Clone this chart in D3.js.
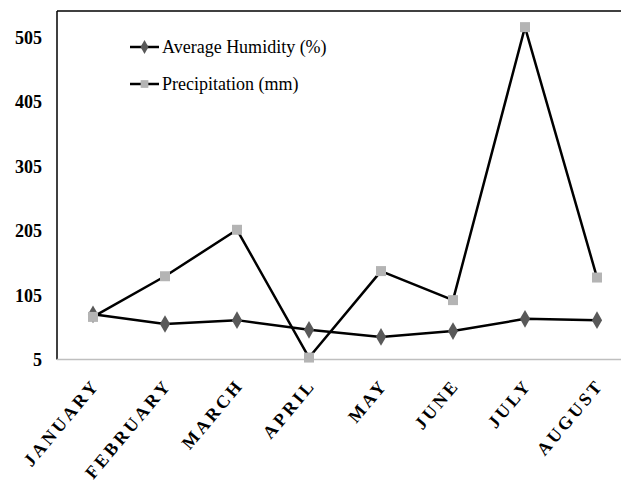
<!DOCTYPE html>
<html><head><meta charset="utf-8">
<script src="https://cdn.jsdelivr.net/npm/d3@7"></script>
<style>html,body{margin:0;padding:0;background:#fff;}svg{display:block;}</style>
</head><body>
<svg id="c" width="621" height="484"></svg>
<script>
const months = ["JANUARY","FEBRUARY","MARCH","APRIL","MAY","JUNE","JULY","AUGUST"];
const humidity = [75, 60, 66, 51, 40, 49, 68, 66];
const precipitation = [71, 134, 206, 8, 142, 97, 520, 132];
const yTicks = [5, 105, 205, 305, 405, 505];
const seriesNames = ["Average Humidity (%)", "Precipitation (mm)"];

const svg = d3.select("#c");
const L = 57, T = 11, B = 359.5, R = 633;
const x = d3.scalePoint().domain(months).range([L, R]).padding(0.5);
const y = d3.scaleLinear().domain([5, 545]).range([B, T]);
const font = "'Liberation Serif','Times New Roman',serif";

// frame
svg.append("line").attr("x1", L).attr("x2", 621).attr("y1", T).attr("y2", T).attr("stroke", "#000").attr("stroke-width", 1.5);
svg.append("line").attr("x1", L).attr("x2", L).attr("y1", T).attr("y2", B).attr("stroke", "#000").attr("stroke-width", 1.5);

// x axis (grey baseline)
const xAxis = svg.append("g").attr("transform", `translate(0,${B})`)
  .call(d3.axisBottom(x).tickSize(0).tickPadding(0));
xAxis.select(".domain").attr("d", `M${L},0H621`).attr("stroke", "#bfbfbf").attr("stroke-width", 1.5);
xAxis.selectAll(".tick text")
  .attr("font-family", font).attr("font-size", 18).attr("font-weight", "bold")
  .attr("fill", "#000").attr("letter-spacing", "3px")
  .attr("text-anchor", "end").attr("dy", 0)
  .attr("transform", "translate(7,26) rotate(-50)");

// y axis labels
const yAxis = svg.append("g").attr("transform", `translate(${L},0)`)
  .call(d3.axisLeft(y).tickValues(yTicks).tickSize(0).tickPadding(15).tickFormat(d3.format("d")));
yAxis.select(".domain").remove();
yAxis.selectAll(".tick text")
  .attr("font-family", font).attr("font-size", 18).attr("font-weight", "bold").attr("fill", "#000")
  .attr("dy", "0.36em");

const line = d3.line().x((d, i) => x(months[i])).y(d => y(d));

function drawSeries(vals, marker, color, size) {
  svg.append("path").datum(vals).attr("d", line).attr("fill", "none")
    .attr("stroke", "#000").attr("stroke-width", 2.5).attr("stroke-linejoin", "round");
  svg.append("g").selectAll("path").data(vals).join("path")
    .attr("transform", (d, i) => `translate(${x(months[i])},${y(d)})`)
    .attr("d", d3.symbol().type(marker).size(size))
    .attr("fill", color);
}
drawSeries(humidity, d3.symbolDiamond, "#595959", 90);
drawSeries(precipitation, d3.symbolSquare, "#b4b4b4", 100);

// legend
const leg = svg.append("g");
const legRows = [
  {name: seriesNames[0], marker: d3.symbolDiamond, color: "#595959", size: 55, y: 47},
  {name: seriesNames[1], marker: d3.symbolSquare, color: "#b4b4b4", size: 60, y: 84}
];
legRows.forEach(r => {
  leg.append("line").attr("x1", 130).attr("x2", 159).attr("y1", r.y).attr("y2", r.y)
    .attr("stroke", "#000").attr("stroke-width", 2.5);
  leg.append("path").attr("transform", `translate(144.5,${r.y})`)
    .attr("d", d3.symbol().type(r.marker).size(r.size)).attr("fill", r.color);
  leg.append("text").attr("x", 162).attr("y", r.y).attr("dy", "0.35em")
    .attr("font-family", font).attr("font-size", 18).attr("fill", "#000")
    .text(r.name);
});
</script>
</body></html>
